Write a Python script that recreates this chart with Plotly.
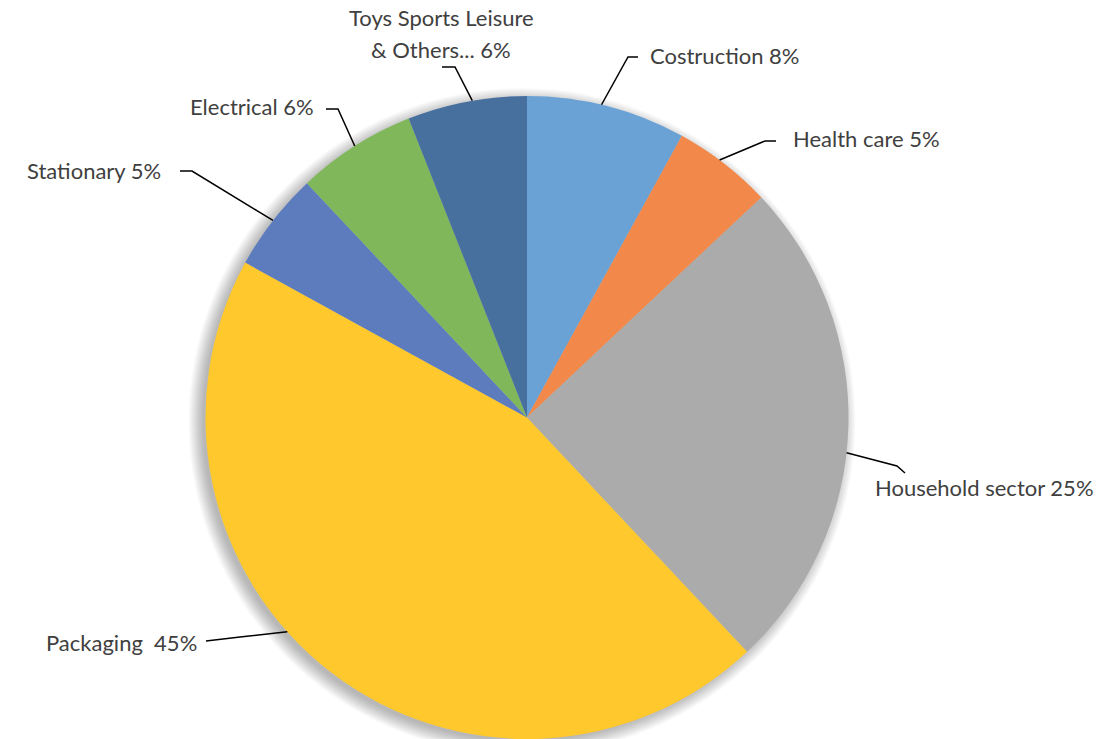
import math
import plotly.graph_objects as go

# Market share by application sector (percent), clockwise from 12 o'clock
sectors = ["Costruction", "Health care", "Household sector", "Packaging",
           "Stationary", "Electrical", "Toys Sports Leisure & Others..."]
shares = [8, 5, 25, 45, 5, 6, 6]
colors = ["#6aa2d6", "#f2894a", "#ababab", "#ffc82d",
          "#5c7cbe", "#7fb75a", "#47709f"]

# label text lines shown beside each slice
label_lines = [
    ["Costruction 8%"],
    ["Health care 5%"],
    ["Household sector 25%"],
    ["Packaging  45%"],
    ["Stationary 5%"],
    ["Electrical 6%"],
    ["Toys Sports Leisure", "& Others... 6%"],
]

W, H = 1114, 739
CX, CY, R = 527, 417.5, 321.5

# callout layout in pixels: angle nudge (deg), elbow point, line end, text anchor
callouts = [
    dict(nudge=-1, elbow=(628, 57), end=(638, 57), text=(648, 56), xanchor="left"),
    dict(nudge=-1, elbow=(765, 141), end=(776, 141), text=(791, 139), xanchor="left"),
    dict(nudge=4.5, elbow=(897, 466), end=(905, 473), text=(873, 487), xanchor="left"),
    dict(nudge=10.4, elbow=(240, 637), end=(206, 641), text=(199, 642), xanchor="right"),
    dict(nudge=0, elbow=(192, 171), end=(180, 171), text=(163, 170), xanchor="right"),
    dict(nudge=0, elbow=(338, 109), end=(326, 109), text=(316, 107), xanchor="right"),
    dict(nudge=1, elbow=(455, 67), end=(442, 67), text=(441, 34), xanchor="center"),
]


def px(x, y):
    return x / W, 1 - y / H


fig = go.Figure()
fig.add_trace(go.Pie(
    labels=sectors, values=shares, sort=False, direction="clockwise",
    rotation=0, marker=dict(colors=colors, line=dict(width=0)),
    textinfo="none", hoverinfo="label+percent", showlegend=False,
    domain=dict(x=[(CX - R) / W, (CX + R) / W], y=[(H - CY - R) / H, (H - CY + R) / H]),
))

shapes = []
# soft drop shadow behind the pie, offset down and to the left
for k in range(-2, 13):
    r = R + k
    sx, sy = CX - 5, CY + 4
    x0, y0 = px(sx - r, sy - r)
    x1, y1 = px(sx + r, sy + r)
    shapes.append(dict(type="circle", xref="paper", yref="paper", layer="below",
                       x0=x0, x1=x1, y0=y1, y1=y0,
                       fillcolor="rgba(0,0,0,0.018)", line=dict(width=0)))

annotations = []
total = sum(shares)
cum = 0
for val, lines, c in zip(shares, label_lines, callouts):
    mid = (cum + val / 2) / total * 360 + c["nudge"]
    cum += val
    ex = CX + R * math.sin(math.radians(mid))
    ey = CY - R * math.cos(math.radians(mid))
    pts = [px(ex, ey), px(*c["elbow"]), px(*c["end"])]
    path = "M {} {} L {} {} L {} {}".format(*[v for p in pts for v in p])
    shapes.append(dict(type="path", xref="paper", yref="paper", path=path,
                       line=dict(color="black", width=1.5)))
    tx, ty = c["text"]
    n = len(lines)
    for i, line in enumerate(lines):
        ly = ty + (i - (n - 1) / 2) * 32
        ax, ay = px(tx, ly)
        annotations.append(dict(text=line, x=ax, y=ay, xref="paper", yref="paper",
                                xanchor=c["xanchor"], yanchor="middle", showarrow=False,
                                font=dict(family="Lato", size=22, color="#404040")))

fig.update_layout(
    width=W, height=H, margin=dict(l=0, r=0, t=0, b=0),
    paper_bgcolor="white", plot_bgcolor="white",
    shapes=shapes, annotations=annotations,
)
fig.write_html("out.html")
